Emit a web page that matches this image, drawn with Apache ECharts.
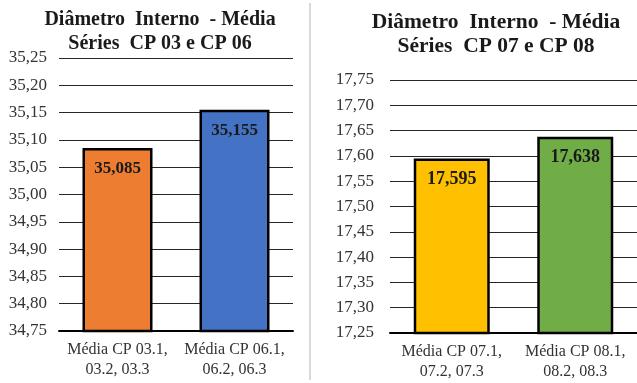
<!DOCTYPE html>
<html>
<head>
<meta charset="utf-8">
<script src="https://cdn.jsdelivr.net/npm/echarts@6/dist/echarts.min.js"></script>
<style>html,body{margin:0;padding:0;background:#fff;}#c{width:637px;height:383px;}</style>
</head>
<body>
<div id="c"></div>
<script>
// Left chart
const titleLeft = 'Diâmetro  Interno  - Média\nSéries  CP 03 e CP 06';
const categoriesLeft = ['Média CP 03.1,\n03.2, 03.3', 'Média CP 06.1,\n06.2, 06.3'];
const valuesLeft = [35.085, 35.155];
const colorsLeft = ['#ED7D31', '#4472C4'];
const yMinLeft = 34.75, yMaxLeft = 35.25, yStepLeft = 0.05;

// Right chart
const titleRight = 'Diâmetro  Interno  - Média\nSéries  CP 07 e CP 08';
const categoriesRight = ['Média CP 07.1,\n07.2, 07.3', 'Média CP 08.1,\n08.2, 08.3'];
const valuesRight = [17.595, 17.638];
const colorsRight = ['#FFC000', '#70AD47'];
const yMinRight = 17.25, yMaxRight = 17.75, yStepRight = 0.05;

const serif = 'Liberation Serif';
const chart = echarts.init(document.getElementById('c'), null, {renderer: 'canvas'});

function yAxis(gi, min, max, step, margin) {
  return {
    type: 'value', gridIndex: gi, min: min, max: max, interval: step,
    axisLine: {show: false}, axisTick: {show: false},
    axisLabel: {formatter: v => v.toFixed(2).replace('.', ','), fontFamily: serif, fontSize: 17, color: '#333', margin: margin},
    splitLine: {lineStyle: {color: '#262626', width: 1}}
  };
}
function xAxis(gi, cats) {
  return {
    type: 'category', gridIndex: gi, data: cats,
    axisLine: {lineStyle: {color: '#000', width: 2}}, axisTick: {show: false},
    axisLabel: {fontFamily: serif, fontSize: 16, color: '#333', lineHeight: 20, margin: 9, interval: 0}
  };
}
function series(idx, vals, cols, width, fs) {
  return {
    type: 'bar', xAxisIndex: idx, yAxisIndex: idx, barWidth: width,
    data: vals.map((v, i) => ({value: v, itemStyle: {color: cols[i]}})),
    itemStyle: {borderColor: '#000', borderWidth: 2.5},
    label: {show: true, position: 'insideTop', distance: 12, formatter: p => p.value.toFixed(3).replace('.', ','),
      fontFamily: serif, fontWeight: 'bold', fontSize: fs, color: '#1a1a1a'}
  };
}

chart.setOption({
  animation: false,
  title: [
    {text: titleLeft, left: 155, top: 3, textAlign: 'center',
      textStyle: {fontFamily: serif, fontWeight: 'bold', fontSize: 20, color: '#1a1a1a', lineHeight: 24}},
    {text: titleRight, left: 491, top: 5, textAlign: 'center',
      textStyle: {fontFamily: serif, fontWeight: 'bold', fontSize: 21.5, color: '#1a1a1a', lineHeight: 24}}
  ],
  grid: [
    {left: 59, right: 344, top: 58, bottom: 52},
    {left: 390, right: -1, top: 80, bottom: 50}
  ],
  xAxis: [xAxis(0, categoriesLeft), xAxis(1, categoriesRight)],
  yAxis: [yAxis(0, yMinLeft, yMaxLeft, yStepLeft, 12), yAxis(1, yMinRight, yMaxRight, yStepRight, 16)],
  series: [series(0, valuesLeft, colorsLeft, 70, 17), series(1, valuesRight, colorsRight, 76, 18)],
  graphic: [{type: 'line', shape: {x1: 310, y1: 3, x2: 310, y2: 380}, style: {stroke: '#d9d9d9', lineWidth: 2}}]
});
</script>
</body>
</html>
